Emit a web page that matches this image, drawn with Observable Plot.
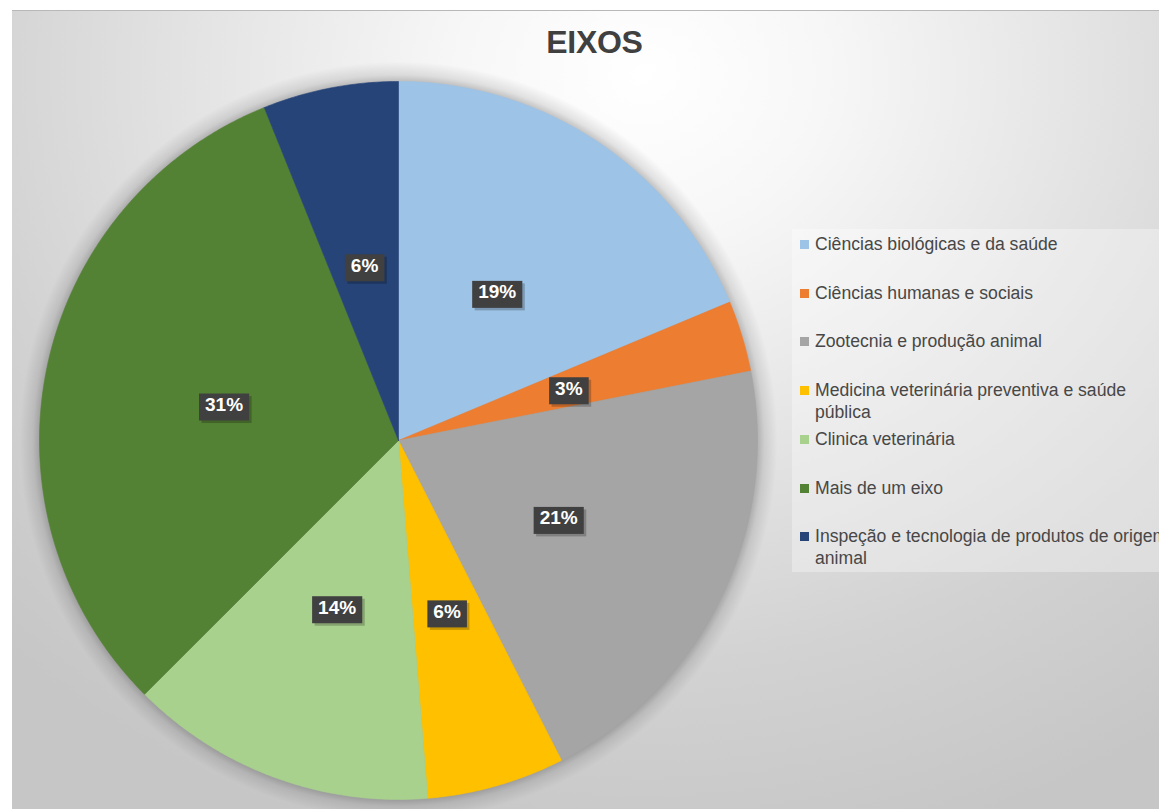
<!DOCTYPE html>
<html><head><meta charset="utf-8">
<script src="https://cdn.jsdelivr.net/npm/d3@7"></script>
<script src="https://cdn.jsdelivr.net/npm/@observablehq/plot@0.6"></script>
<style>
html,body{margin:0;padding:0;background:#fff;overflow:hidden;width:1159px;height:809px;}
#chart{position:absolute;left:12px;top:10px;width:1147px;height:799px;overflow:hidden;
  background:radial-gradient(ellipse 80% 100% at 55% 8%, #ffffff 0%, #f7f7f7 20%, #e4e4e4 48%, #d2d2d2 74%, #c6c6c6 100%);
  border-top:1px solid #b8b8b8;font-family:"Liberation Sans",Arial,sans-serif;}
#title{position:absolute;left:9px;width:1147px;top:12px;line-height:38px;text-align:center;font-weight:bold;font-size:32px;color:#404040;letter-spacing:-0.3px;}
#pie{position:absolute;left:6px;top:49px;width:760px;height:760px;}
#legend{position:absolute;left:780px;top:218px;width:420px;height:343px;background:rgba(255,255,255,0.32);}
.item{position:absolute;left:0;width:420px;}
.sw{position:absolute;left:8px;top:7px;width:9px;height:9px;}
.tx{position:absolute;left:23px;width:362px;font-size:17.6px;line-height:22px;color:#474747;white-space:normal;}
</style>
</head><body>
<div id="chart">
  <div id="title"></div>
  <div id="pie"></div>
  <div id="legend"></div>
</div>
<script>
const title = "EIXOS";
const categories = [
  "Ciências biológicas e da saúde",
  "Ciências humanas e sociais",
  "Zootecnia e produção animal",
  "Medicina veterinária preventiva e saúde pública",
  "Clinica veterinária",
  "Mais de um eixo",
  "Inspeção e tecnologia de produtos de origem animal"
];
const shares = [18.7, 3.2, 20.6, 6.2, 13.8, 31.4, 6.1];
const colors = ["#9dc3e6", "#ed7d31", "#a5a5a5", "#ffc000", "#a9d18e", "#548235", "#264478"];

document.getElementById("title").textContent = title;

// pie geometry from the data
const total = d3.sum(shares);
const arcs = d3.pie().sort(null).value(d => d)(shares);
const pts = [];
arcs.forEach((a, i) => {
  const cat = categories[i];
  pts.push({cat, x: 0, y: 0});
  const n = Math.max(4, Math.ceil((a.endAngle - a.startAngle) / (Math.PI / 360)));
  for (let k = 0; k <= n; k++) {
    const t = a.startAngle + (a.endAngle - a.startAngle) * k / n;
    pts.push({cat, x: Math.sin(t), y: Math.cos(t)});
  }
  pts.push({cat, x: 0, y: 0});
});
const labels = arcs.map((a, i) => {
  const m = (a.startAngle + a.endAngle) / 2;
  return {x: 0.496 * Math.sin(m), y: 0.496 * Math.cos(m), text: Math.round(shares[i] / total * 100) + "%"};
});

const R = 380 / 359;
const svg = Plot.plot({
  width: 760, height: 760, margin: 0,
  x: {domain: [-R, R], axis: null},
  y: {domain: [-R, R], axis: null},
  color: {domain: categories, range: colors},
  style: {background: "transparent", overflow: "visible", fontFamily: "Liberation Sans, Arial, sans-serif"},
  marks: [
    Plot.dot([{x: 0, y: 0}], {x: "x", y: "y", r: 379, fill: "url(#pieShadowGrad)", stroke: "none"}),
    Plot.line(pts, {x: "x", y: "y", z: "cat", fill: "cat", stroke: "cat", strokeWidth: 0.6}),
    Plot.text(labels, {x: "x", y: "y", text: "text", fill: "white", fontWeight: "bold", fontSize: 19})
  ]
});
document.getElementById("pie").append(svg);

const NS = "http://www.w3.org/2000/svg";
const defs = document.createElementNS(NS, "defs");
defs.innerHTML = `
<radialGradient id="pieShadowGrad" cx="0.5" cy="0.5" r="0.5">
  <stop offset="0.93" stop-color="#000" stop-opacity="0.34"/>
  <stop offset="0.965" stop-color="#000" stop-opacity="0.10"/>
  <stop offset="1" stop-color="#000" stop-opacity="0"/>
</radialGradient>`;
svg.insertBefore(defs, svg.firstChild);

svg.querySelectorAll('g[aria-label="text"] text').forEach(t => {
  const b = t.getBBox();
  const tr = t.getAttribute("transform");
  const mk = (dx, dy, fill) => {
    const r = document.createElementNS(NS, "rect");
    r.setAttribute("x", b.x - 6 + dx);
    r.setAttribute("y", b.y - 0.5 + dy);
    r.setAttribute("width", b.width + 12);
    r.setAttribute("height", b.height + 6);
    r.setAttribute("fill", fill);
    if (tr) r.setAttribute("transform", tr);
    t.parentNode.insertBefore(r, t);
  };
  mk(2.5, 2.5, "rgba(0,0,0,0.22)");
  mk(0, 0, "#404040");
});

// legend
const lg = document.getElementById("legend");
categories.forEach((c, i) => {
  const it = document.createElement("div");
  it.className = "item";
  it.style.top = (4 + 48.7 * i) + "px";
  const sw = document.createElement("div");
  sw.className = "sw"; sw.style.background = colors[i];
  const tx = document.createElement("div");
  tx.className = "tx"; tx.textContent = c;
  it.append(sw, tx);
  lg.append(it);
});
</script>
</body></html>
